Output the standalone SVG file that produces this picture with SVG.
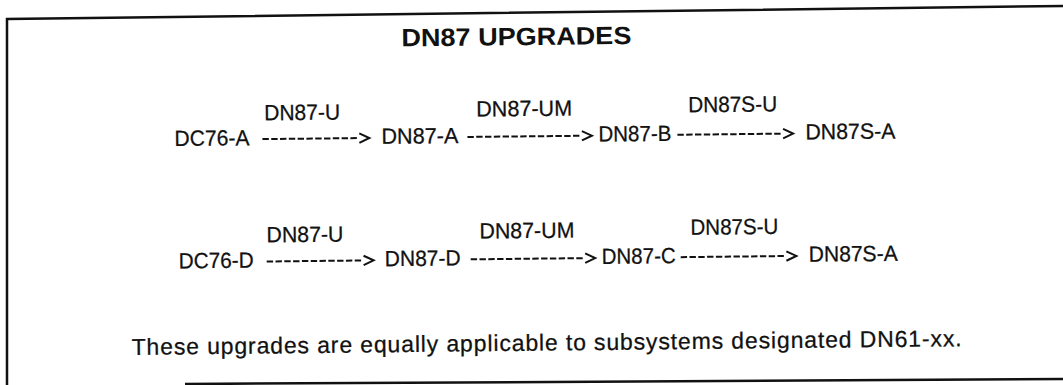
<svg xmlns="http://www.w3.org/2000/svg" width="1063" height="385" viewBox="0 0 1063 385">
<style>
.t{font-family:"Liberation Sans",Arial,Helvetica,sans-serif;font-size:22px;fill:#111;stroke:#111;stroke-width:0.25;}
.note{font-size:23px;}
.title{font-family:"Liberation Sans",Arial,Helvetica,sans-serif;font-size:25px;font-weight:bold;fill:#111;}
.dash{stroke:#111;stroke-width:2;stroke-dasharray:6.4 2.4;fill:none;}
.frame{stroke:#111;stroke-width:2.5;fill:none;}
</style>
<defs>
<marker id="chev" viewBox="0 0 12 11" refX="-2" refY="5.5" markerWidth="12" markerHeight="11" markerUnits="userSpaceOnUse" orient="auto" overflow="visible">
<path d="M0.5,0.8 L10.5,5.5 L0.5,10.2" fill="none" stroke="#111" stroke-width="2"/>
</marker>
</defs>
<rect width="1063" height="385" fill="#fff"/>
<g id="frame">
<path class="frame" d="M7,385 V19 L1063,6"/>
<path class="frame" d="M185,384 L1063,379"/>
</g>
<g transform="rotate(-0.6 531 192)">
<g id="title"><text class="title" x="518" y="45" text-anchor="middle" textLength="230" lengthAdjust="spacingAndGlyphs">DN87 UPGRADES</text></g>
<g id="connectors">
<line class="dash" x1="263" y1="136.3" x2="357.4" y2="136.3" marker-end="url(#chev)"/>
<line class="dash" x1="468" y1="136.3" x2="580" y2="136.3" marker-end="url(#chev)"/>
<line class="dash" x1="678" y1="136.3" x2="781.2" y2="136.3" marker-end="url(#chev)"/>
<line class="dash" x1="266" y1="258.7" x2="360.4" y2="258.7" marker-end="url(#chev)"/>
<line class="dash" x1="470" y1="258.7" x2="582" y2="258.7" marker-end="url(#chev)"/>
<line class="dash" x1="680" y1="258.7" x2="783.2" y2="258.7" marker-end="url(#chev)"/>
</g>
<g id="conn-labels">
<text class="t" x="265" y="117.5" textLength="76" lengthAdjust="spacingAndGlyphs">DN87-U</text>
<text class="t" x="477" y="116" textLength="96" lengthAdjust="spacingAndGlyphs">DN87-UM</text>
<text class="t" x="689" y="114" textLength="89" lengthAdjust="spacingAndGlyphs">DN87S-U</text>
<text class="t" x="266" y="239.6" textLength="77" lengthAdjust="spacingAndGlyphs">DN87-U</text>
<text class="t" x="479" y="238" textLength="95" lengthAdjust="spacingAndGlyphs">DN87-UM</text>
<text class="t" x="690" y="236.5" textLength="88" lengthAdjust="spacingAndGlyphs">DN87S-U</text>
</g>
<g id="node-dc76a"><text class="t" x="175" y="142.3" textLength="75" lengthAdjust="spacingAndGlyphs">DC76-A</text></g>
<g id="node-dn87a"><text class="t" x="382" y="142.3" textLength="77" lengthAdjust="spacingAndGlyphs">DN87-A</text></g>
<g id="node-dn87b"><text class="t" x="599" y="142.3" textLength="73" lengthAdjust="spacingAndGlyphs">DN87-B</text></g>
<g id="node-dn87sa-1"><text class="t" x="806" y="142.3" textLength="90" lengthAdjust="spacingAndGlyphs">DN87S-A</text></g>
<g id="node-dc76d"><text class="t" x="178" y="264.7" textLength="75" lengthAdjust="spacingAndGlyphs">DC76-D</text></g>
<g id="node-dn87d"><text class="t" x="384" y="264.7" textLength="76" lengthAdjust="spacingAndGlyphs">DN87-D</text></g>
<g id="node-dn87c"><text class="t" x="601" y="264.7" textLength="74" lengthAdjust="spacingAndGlyphs">DN87-C</text></g>
<g id="node-dn87sa-2"><text class="t" x="808" y="264.7" textLength="89" lengthAdjust="spacingAndGlyphs">DN87S-A</text></g>
<g id="note"><text class="t note" x="130" y="350.7" textLength="830" lengthAdjust="spacing">These upgrades are equally applicable to subsystems designated DN61-xx.</text></g>
</g>
</svg>
